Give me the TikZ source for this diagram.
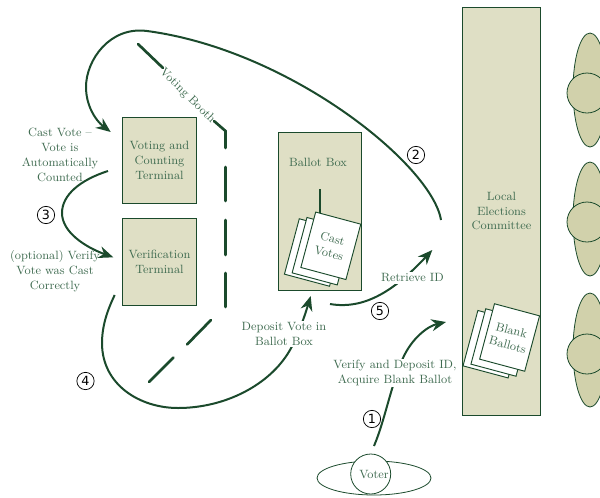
\documentclass[tikz,border=0pt]{standalone}
\usepackage{fontspec}
\usetikzlibrary{arrows.meta,shapes.geometric}
\newfontfamily\numfont{DejaVu Sans}
\definecolor{votegreen}{HTML}{1B4A2C}
\definecolor{votetext}{HTML}{3F6B50}
\definecolor{boxfill}{HTML}{DFDFC5}
\definecolor{personfill}{HTML}{D1D1AB}
\tikzset{
	votelabel/.style={align=center,inner sep=1pt,text=votetext,font=\fontsize{9}{11.2}\selectfont},
	maskedlabel/.style={votelabel,fill=white},
	boxnode/.style={votelabel,draw=votegreen,fill=boxfill,line width=.7pt,inner sep=0pt},
	sheetnode/.style={votelabel,draw=votegreen,fill=white,rotate=-15,line width=.7pt,inner sep=0pt,minimum width=35pt,minimum height=43pt},
	bodynode/.style={ellipse,draw=votegreen,fill=personfill,line width=.6pt,inner sep=0pt,minimum width=25.5pt,minimum height=85.5pt},
	headnode/.style={circle,draw=votegreen,fill=personfill,line width=.6pt,inner sep=0pt,minimum size=30pt},
	stepnum/.style={circle,draw=black,line width=.55pt,inner sep=0pt,minimum size=13pt,text=black,font=\numfont\fontsize{9.5}{9.5}\selectfont},
	wall/.style={votegreen,line width=2pt,line cap=round},
	flow/.style={votegreen,line width=1.5pt},
	flowtip/.style={flow,-{Stealth[length=11pt,width=9pt]}}
}
\begin{document}
\begin{tikzpicture}[x=.75pt,y=-.75pt]
	\useasboundingbox (0,0) rectangle (600,497);
	% people
	\node[bodynode] (body1) at (590,90) {};
	\node[headnode] (head1) at (587,93) {};
	\node[bodynode] (body2) at (590,219) {};
	\node[headnode] (head2) at (587,222) {};
	\node[bodynode] (body3) at (590,350) {};
	\node[headnode] (head3) at (587,354) {};
	
	% boxes
	\node[boxnode,minimum width=55.5pt,minimum height=65pt] (voting) at (159.5,160.5) {Voting and\\Counting\\Terminal};
	\node[boxnode,minimum width=55.5pt,minimum height=65pt] (verify) at (159.5,262) {Verification\\Terminal};
	\node[boxnode,minimum width=62pt,minimum height=119pt] (box) at (320,211.5) {};
	\node[boxnode,minimum width=59pt,minimum height=306pt] (committee) at (501.5,211) {Local\\Elections\\Committee};
	\node[votelabel] (boxname) at (318,162) {Ballot Box};
	
	% the stacks of sheets
	\coordinate (slot1) at (320,189);
	\coordinate (slot2) at (320,215);
	\draw[votegreen,line width=1.5pt] (slot1) -- (slot2);
	\node[sheetnode] (cast3) at (314.4,252.5) {};
	\node[sheetnode] (cast2) at (322.1,251.2) {};
	\node[sheetnode] (cast1) at (330.8,245.8) {Cast\\Votes};
	\node[sheetnode] (blank3) at (493,344.2) {};
	\node[sheetnode] (blank2) at (500.9,342.5) {};
	\node[sheetnode] (blank1) at (509.6,337.5) {Blank\\Ballots};
	
	% booth walls
	\coordinate (w1) at (138,44);
	\coordinate (w2) at (163,68);
	\coordinate (w3) at (214,121);
	\coordinate (w4) at (225.5,131);
	\coordinate (w5) at (225.5,148);
	\coordinate (w6) at (225.5,167);
	\coordinate (w7) at (225.5,201);
	\coordinate (w8) at (225.5,220);
	\coordinate (w9) at (225.5,255);
	\coordinate (w10) at (225.5,273);
	\coordinate (w11) at (225.5,307);
	\coordinate (w12) at (211,320);
	\coordinate (w13) at (187,344.5);
	\coordinate (w14) at (173.5,357.5);
	\coordinate (w15) at (149,382);
	\foreach \from/\to in {w1/w2,w6/w7,w8/w9,w10/w11,w12/w13,w14/w15}
	\draw[wall] (\from) -- (\to);
	\draw[wall] (w3) -- (w4) -- (w5);
	\node[votelabel,rotate=-45] (booth) at (187.5,96) {Voting Booth};
	
	% free ends of the flows
	\coordinate (a1) at (374,446);
	\coordinate (a2) at (446,322);
	\coordinate (b1) at (441,220);
	\coordinate (b2) at (110.7,132);
	\coordinate (c1) at (108,171);
	\coordinate (c2) at (113.3,257.3);
	\coordinate (d1) at (114.7,295);
	\coordinate (d2) at (310.7,296);
	\coordinate (e1) at (330,304);
	\coordinate (e2) at (432.3,250);
	
	\draw[flowtip] (a1) .. controls (385,420) and (391,385) .. (403,358) .. controls (412,338) and (428,326) .. (a2);
	\draw[flowtip] (b1) .. controls (432,165) and (290,50) .. (147,31) .. controls (110,26) and (86,60) .. (86,87) .. controls (86,105) and (95,120) .. (b2);
	\draw[flowtip] (c1) .. controls (80,180) and (62,195) .. (62,213) .. controls (62,232) and (85,247) .. (c2);
	\draw[flowtip] (d1) .. controls (105,315) and (102,330) .. (102,343) .. controls (102,385) and (140,408) .. (178,408) .. controls (225,408) and (270,385) .. (290,350) .. controls (298,336) and (305,315) .. (d2);
	\draw[flowtip] (e1) .. controls (365,310) and (395,290) .. (e2);
	
	% labels
	\node[votelabel] (castlabel) at (60,155) {Cast Vote --\\Vote is\\Automatically\\Counted};
	\node[votelabel] (checklabel) at (55,271) {(optional) Verify\\Vote was Cast\\Correctly};
	\node[maskedlabel] (depositlabel) at (284,334) {Deposit Vote in\\Ballot Box};
	\node[maskedlabel] (idlabel) at (412.5,278) {Retrieve ID};
	\node[maskedlabel] (acquirelabel) at (395,373) {Verify and Deposit ID,\\Acquire Blank Ballot};
	
	% voter
	\node[ellipse,draw=votegreen,fill=white,line width=.6pt,inner sep=0pt,minimum width=85.5pt,minimum height=25.5pt] (voterbody) at (374,478) {};
	\node[circle,draw=votegreen,fill=white,line width=.6pt,inner sep=0pt,minimum size=30pt] (voterhead) at (370.7,474) {};
	\node[votelabel] (voter) at (374,475) {Voter};
	
	% step numbers
	\node[stepnum] (num1) at (372,419) {1};
	\node[stepnum] (num2) at (416,155) {2};
	\node[stepnum] (num3) at (46,215) {3};
	\node[stepnum] (num4) at (85.5,381) {4};
	\node[stepnum] (num5) at (380,311) {5};
\end{tikzpicture}
\end{document}
